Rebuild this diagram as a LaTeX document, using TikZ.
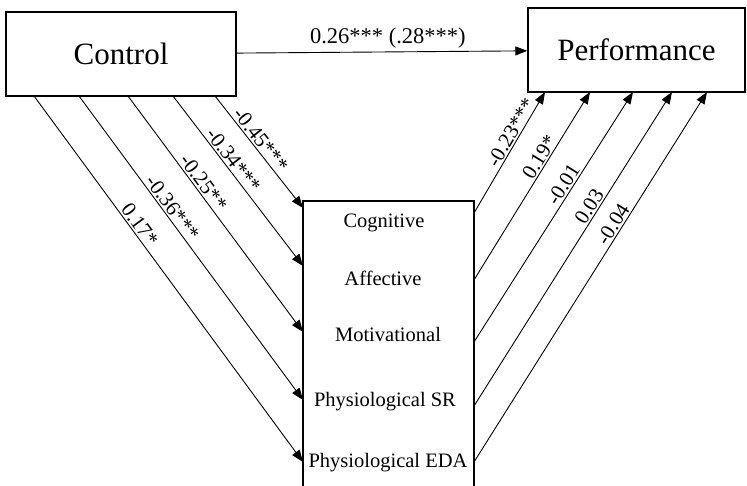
\documentclass[tikz,border=0pt]{standalone}
\usepackage{fontspec}
\setmainfont{Liberation Serif}
\usetikzlibrary{arrows.meta,positioning}

\begin{document}
\begin{tikzpicture}[x=1pt,y=-1pt,
    bigbox/.style={draw,line width=1.4pt,minimum width=#1,minimum height=84pt,
      inner sep=0pt,font=\fontsize{31}{36}\selectfont},
    effect/.style={line width=0.9pt,-{Triangle[length=12pt,width=9pt]}},
    coef/.style={sloped,above,inner sep=1.5pt,font=\fontsize{21}{24}\selectfont},
    factor/.style={inner sep=0pt,font=\fontsize{20.5}{24}\selectfont}]
\useasboundingbox (0,0) rectangle (747,486);
\node[bigbox=230pt] (control) at (121,54) {Control};
\node[bigbox=217pt] (perf) at (636.5,50) {Performance};
\draw[effect] (control) -- node[above,pos=0.52,inner sep=3pt,font=\fontsize{22.5}{26}\selectfont]
    {0.26*** (.28***)} (perf);
% mediators, box runs off the bottom
\draw[line width=1.4pt] (303,486) |- (474,201) -- (474,486);
\node[factor] (cog) at (384,223) {Cognitive};
\node[factor] (aff) at (383,278) {Affective};
\node[factor] (mot) at (388,334) {Motivational};
\node[factor] (psr) at (385,402) {Physiological SR};
\node[factor] (peda) at (388,463) {Physiological EDA};
% ends on the box
\coordinate (l1) at (303,208); \coordinate (r1) at (474,213);
\coordinate (l2) at (303,266); \coordinate (r2) at (474,280);
\coordinate (l3) at (303,332); \coordinate (r3) at (474,342);
\coordinate (l4) at (303,400); \coordinate (r4) at (474,406);
\coordinate (l5) at (303,462); \coordinate (r5) at (474,462);
% ends on control and performance
\coordinate (c1) at (215,96); \coordinate (p1) at (545,92);
\coordinate (c2) at (173,96); \coordinate (p2) at (590,92);
\coordinate (c3) at (128,96); \coordinate (p3) at (633,92);
\coordinate (c4) at (79,96);  \coordinate (p4) at (672,92);
\coordinate (c5) at (34,96);  \coordinate (p5) at (707,92);
\foreach \a/\b/\s/\t in {c1/l1/0.44/{-0.45***},c2/l2/0.41/{-0.34***},
    c3/l3/0.39/{-0.25**},c4/l4/0.385/{-0.36***},c5/l5/0.366/{0.17*}}
  \draw[effect] (\a) -- node[coef,pos=\s]{\t} (\b);
\foreach \a/\b/\s/\t in {r1/p1/0.63/{-0.23***},r2/p2/0.63/{0.19*},
    r3/p3/0.61/{-0.01},r4/p4/0.62/{0.03},r5/p5/0.63/{-0.04}}
  \draw[effect] (\a) -- node[coef,pos=\s]{\t} (\b);
\end{tikzpicture}
\end{document}
